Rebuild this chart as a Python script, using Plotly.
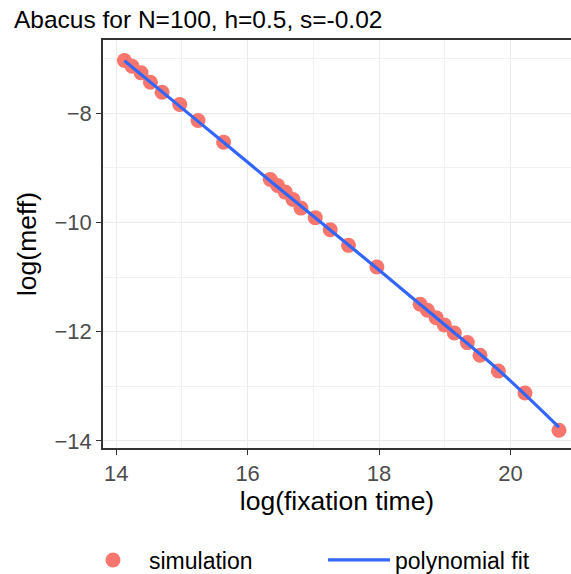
import plotly.graph_objects as go

# Simulation points
sim_x = [14.126, 14.243, 14.380, 14.521, 14.699, 14.967, 15.246, 15.635,
         16.345, 16.456, 16.573, 16.690, 16.812, 17.029, 17.257, 17.535, 17.967,
         18.625, 18.736, 18.868, 18.994, 19.146, 19.343, 19.536, 19.815, 20.220, 20.737]
sim_y = [-7.036, -7.140, -7.261, -7.433, -7.616, -7.841, -8.134, -8.530,
         -9.213, -9.322, -9.445, -9.579, -9.738, -9.913, -10.133, -10.420, -10.817,
         -11.499, -11.609, -11.743, -11.878, -12.024, -12.200, -12.432, -12.719, -13.122, -13.804]

# Polynomial fit line
fit_x = [14.126, 15.246, 16.345, 17.257, 17.967, 18.994, 19.815, 20.737]
fit_y = [-7.04, -8.15, -9.24, -10.14, -10.84, -11.87, -12.70, -13.75]

x_ticks = [14, 16, 18, 20]
y_ticks = [-14, -12, -10, -8]

title_text = "Abacus for N=100, h=0.5, s=-0.02"
x_title = "log(fixation time)"
y_title = "log(meff)"

W, H = 571, 574
L, R, T, B = 103, 0, 40, 126
plot_w = W - L - R
plot_h = H - T - B
font_family = "Liberation Sans, Arial, Helvetica, sans-serif"

fig = go.Figure()
fig.add_trace(go.Scatter(
    x=sim_x, y=sim_y, mode="markers", name="simulation",
    marker=dict(color="#F8766D", size=15, line=dict(width=0)),
))
fig.add_trace(go.Scatter(
    x=fit_x, y=fit_y, mode="lines", name="polynomial fit",
    line=dict(color="#3366FF", width=3.2, shape="spline"),
))

axis_common = dict(
    showline=True, linecolor="#333333", linewidth=1.6,
    ticks="outside", ticklen=5, tickwidth=1.3, tickcolor="#333333",
    tickfont=dict(size=22, color="#4D4D4D", family=font_family),
    showgrid=True, gridcolor="#EBEBEB", gridwidth=1.3,
    zeroline=False,
)

fig.update_layout(
    width=W, height=H,
    margin=dict(l=L, r=R, t=T, b=B, autoexpand=False),
    paper_bgcolor="white", plot_bgcolor="white",
    font=dict(family=font_family, color="black"),
    title=dict(text=title_text, x=14 / W, xanchor="left", xref="container",
               y=1 - 19 / H, yanchor="middle", yref="container",
               font=dict(size=24.5, color="black", family=font_family)),
    xaxis=dict(
        range=[13.80, 20.92], tickvals=x_ticks, mirror=True,
        minor=dict(dtick=1, tick0=13, showgrid=True, gridcolor="#F1F1F1", gridwidth=0.8, ticks=""),
        title=dict(text=x_title, font=dict(size=26.5, color="black", family=font_family), standoff=6),
        **axis_common,
    ),
    yaxis=dict(
        range=[-14.13, -6.66], tickvals=y_ticks,
        minor=dict(dtick=1, tick0=-15, showgrid=True, gridcolor="#F1F1F1", gridwidth=0.8, ticks=""),
        title=dict(text=y_title, font=dict(size=26.5, color="black", family=font_family), standoff=10),
        **axis_common,
    ),
    showlegend=True,
    legend=dict(
        orientation="h", xref="paper", yref="paper",
        x=(77 - L) / plot_w, xanchor="left",
        y=-(560 - (H - B)) / plot_h, yanchor="middle",
        font=dict(size=23, color="black", family=font_family),
        itemwidth=62, entrywidth=169, bgcolor="rgba(0,0,0,0)",
    ),
)

fig.write_html("out.html")
